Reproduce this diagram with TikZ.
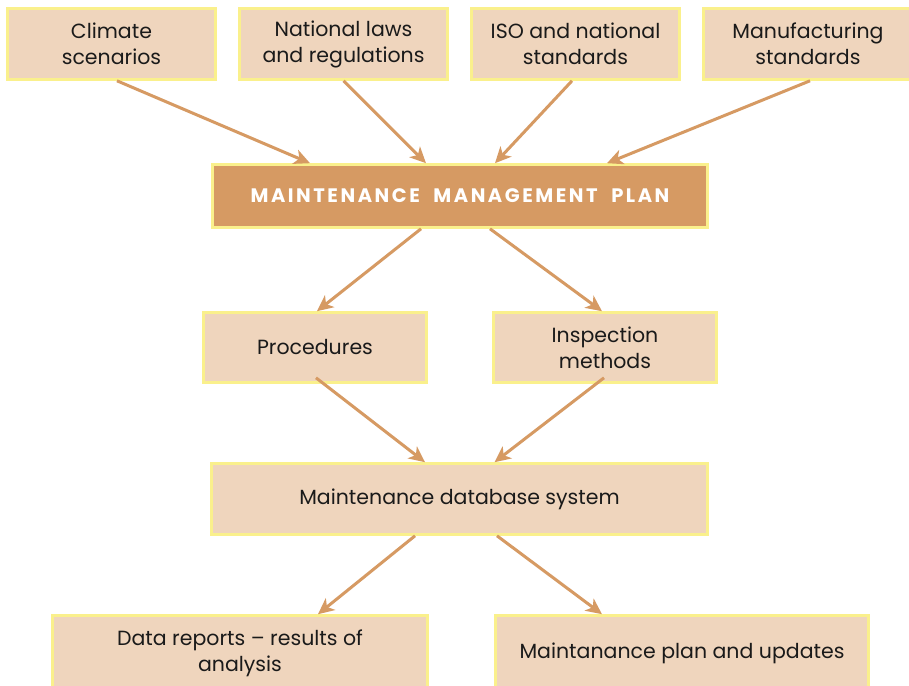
\documentclass[tikz,border=0pt]{standalone}
\usepackage{fontspec}
\setmainfont{Poppins}
\usetikzlibrary{arrows.meta}
\definecolor{boxfill}{HTML}{EFD5BD}
\definecolor{boxedge}{HTML}{FAF08C}
\definecolor{accent}{HTML}{D69A63}
\definecolor{ink}{HTML}{1A1A1A}
\begin{document}
\begin{tikzpicture}[x=1pt,y=-1pt,
  box/.style={draw=boxedge, line width=2.6pt, fill=boxfill, align=center,
    inner sep=0pt, text=ink, font=\fontsize{20.5}{26}\selectfont},
  mainbox/.style={box, fill=accent, text=white,
    font=\fontsize{19.5}{22}\selectfont\bfseries},
  link/.style={draw=accent, line width=3pt,
    -{Stealth[length=16pt,width=15pt,inset=4.5pt]}}]
\clip (0,0) rectangle (909,685);
\fill[white] (0,0) rectangle (909,685);

\node[box, minimum width=208pt, minimum height=71pt] (clim) at (111.5,44) {Climate\\scenarios};
\node[box, minimum width=208pt, minimum height=71pt] (nat) at (343.5,44) {National laws\\and regulations};
\node[box, minimum width=208pt, minimum height=71pt] (iso) at (575.5,44) {ISO and national\\standards};
\node[box, minimum width=209pt, minimum height=71pt] (manu) at (808,44) {Manufacturing\\standards};

\node[mainbox, minimum width=495pt, minimum height=63pt] (mmp) at (460,196)
  {\addfontfeature{LetterSpace=13}MAINTENANCE\hspace{7pt} MANAGEMENT\hspace{7pt} PLAN};

\node[box, minimum width=223pt, minimum height=70pt] (proc) at (315,347.5) {Procedures};
\node[box, minimum width=223pt, minimum height=70pt] (insp) at (605,347.5) {Inspection\\methods};

\node[box, minimum width=496pt, minimum height=71pt] (db) at (459.5,499) {Maintenance database system};

\node[box, minimum width=375pt, minimum height=75pt] (data) at (240,653) {Data reports -- results of\\analysis};
\node[box, minimum width=373pt, minimum height=75pt] (plan) at (682,653) {Maintanance plan and updates};

\draw[link] ([xshift=5.5pt]clim.south) -- ([xshift=-150pt]mmp.north);
\draw[link] (nat.south) -- ([xshift=-34pt]mmp.north);
\draw[link] ([xshift=-3.5pt]iso.south) -- ([xshift=35pt]mmp.north);
\draw[link] ([xshift=2pt]manu.south) -- ([xshift=147pt]mmp.north);

\draw[link] ([xshift=-39pt]mmp.south) -- ([xshift=2pt]proc.north);
\draw[link] ([xshift=30pt]mmp.south) -- ([xshift=-3pt]insp.north);

\draw[link] ([xshift=1pt,yshift=6pt]proc.south) -- ([xshift=-34.5pt]db.north);
\draw[link] ([xshift=-1pt,yshift=6pt]insp.south) -- ([xshift=35pt]db.north);

\draw[link] ([xshift=-44.5pt]db.south) -- ([xshift=78pt]data.north);
\draw[link] ([xshift=37.5pt]db.south) -- ([xshift=-80pt]plan.north);
\end{tikzpicture}
\end{document}
